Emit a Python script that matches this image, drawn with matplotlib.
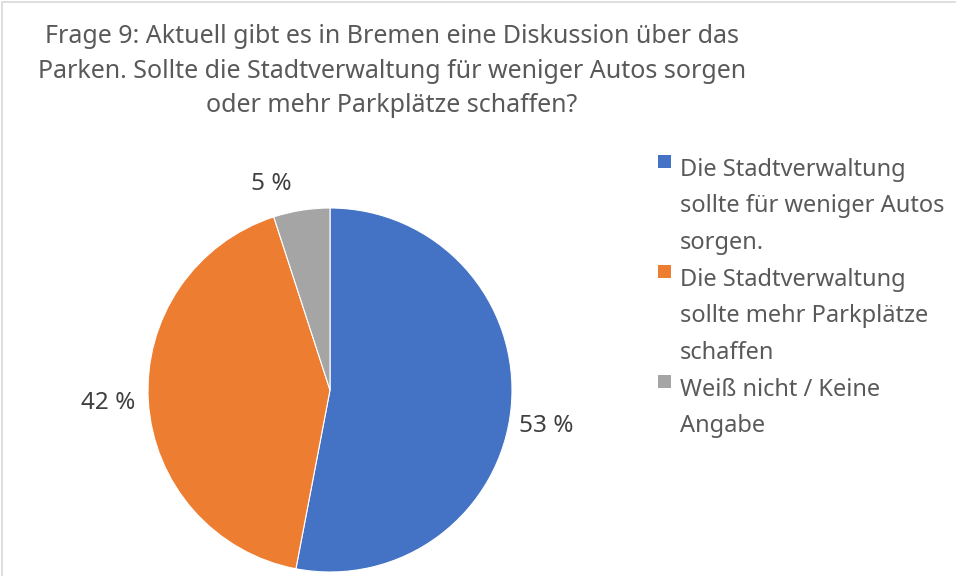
import matplotlib
matplotlib.use("Agg")
import matplotlib.pyplot as plt
from matplotlib.patches import Rectangle

categories = ["Die Stadtverwaltung\nsollte für weniger Autos\nsorgen.",
              "Die Stadtverwaltung\nsollte mehr Parkplätze\nschaffen",
              "Weiß nicht / Keine\nAngabe"]
values = [53, 42, 5]
colors = ["#4472C4", "#ED7D31", "#A5A5A5"]
title = ("Frage 9: Aktuell gibt es in Bremen eine Diskussion über das\n"
         "Parken. Sollte die Stadtverwaltung für weniger Autos sorgen\n"
         "oder mehr Parkplätze schaffen?")

plt.rcParams['font.family'] = ['Noto Sans', 'DejaVu Sans']

W, H = 956, 576
fig = plt.figure(figsize=(W / 100, H / 100), dpi=100)
fig.patch.set_facecolor("white")

# border
fig.add_artist(Rectangle((2 / W, -0.01), 1.2, 1.01 - 2.5 / H, transform=fig.transFigure,
                         fill=False, edgecolor="#D9D9D9", linewidth=1.2))

# pie axes: center (330, 390), radius 182 px
cx, cy, r = 330, 390, 182
ax = fig.add_axes([(cx - r) / W, (H - cy - r) / H, 2 * r / W, 2 * r / H])
wedges, texts, autotexts = ax.pie(values, colors=colors, startangle=90, counterclock=False,
                                  autopct=lambda p: f"{p:.0f} %", pctdistance=1.2,
                                  wedgeprops=dict(edgecolor="white", linewidth=0.8),
                                  textprops=dict(fontsize=17.5, color="#404040"))
label_pos = [(1.19, -0.20), (-1.22, -0.07), (-0.32, 1.13)]
for t, p in zip(autotexts, label_pos):
    t.set_position(p)
ax.set_xlim(-1, 1)
ax.set_ylim(-1, 1)
ax.set_aspect("equal")

fig.text(392 / W, 1 - 71 / H, title, ha="center", va="center", fontsize=18,
         color="#595959", linespacing=1.48)

# legend
sq = 13
text_x = 680
line_pitch = 36.5
item_tops = [161, 271, 381]  # first-line center y
for lab, col, y0 in zip(categories, colors, item_tops):
    fig.add_artist(Rectangle((658 / W, 1 - (y0 + 7) / H), sq / W, sq / H,
                             transform=fig.transFigure, facecolor=col, edgecolor="none"))
    for i, line in enumerate(lab.split("\n")):
        fig.text(text_x / W, 1 - (y0 + 6 + i * line_pitch) / H, line, ha="left",
                 va="center_baseline", fontsize=17, color="#595959")

fig.savefig("out.png", dpi=100)
